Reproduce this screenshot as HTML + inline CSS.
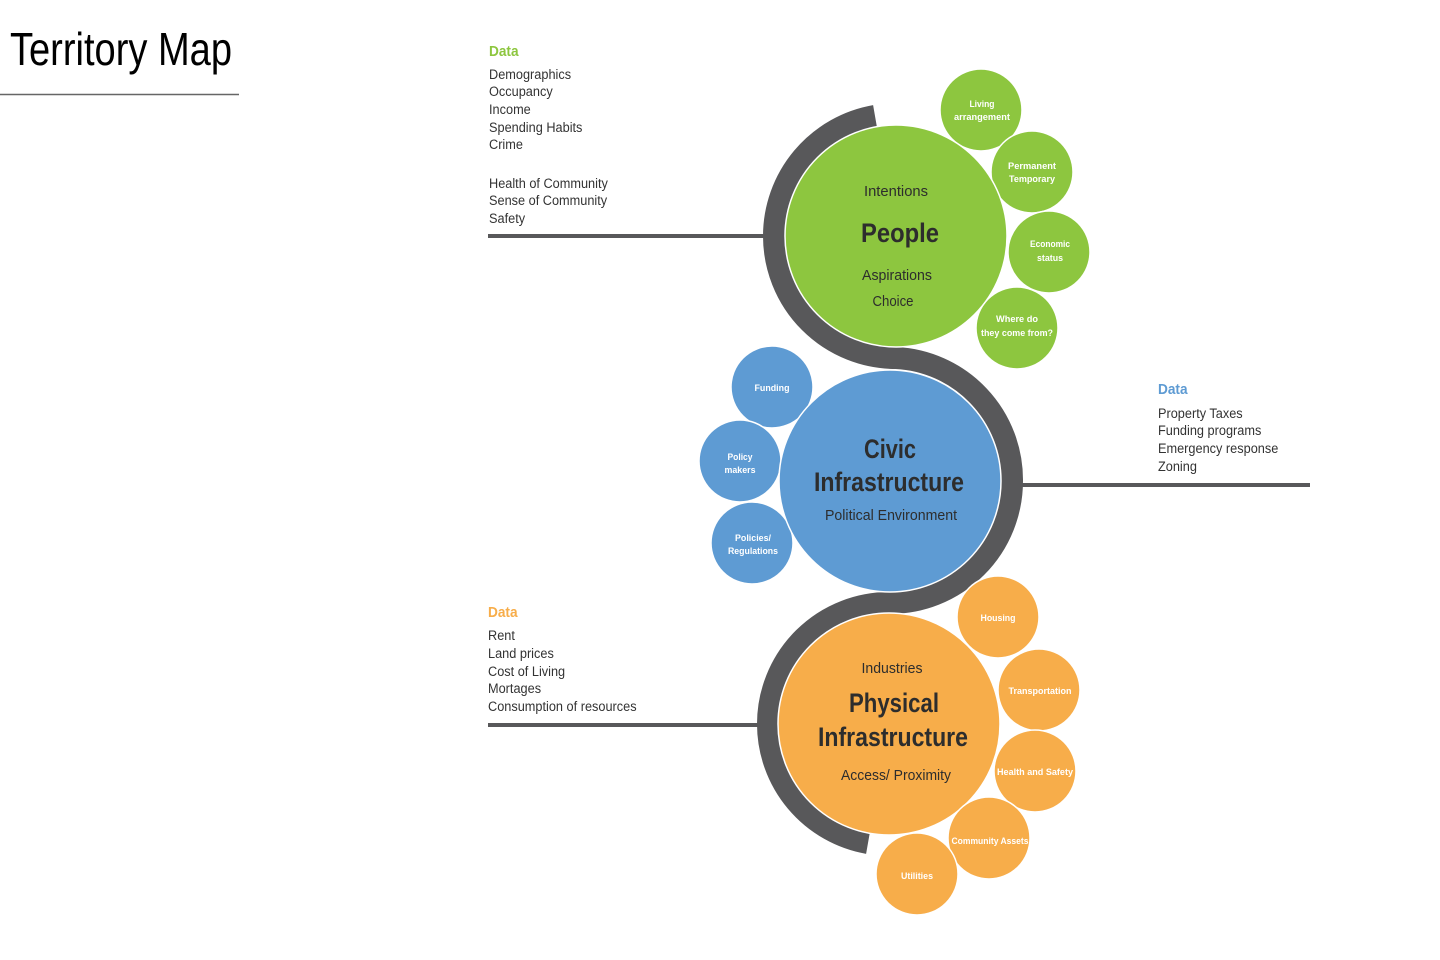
<!DOCTYPE html>
<html><head><meta charset="utf-8"><style>
html,body{margin:0;padding:0;background:#fff;width:1440px;height:960px;overflow:hidden}
svg{display:block}
text{font-family:"Liberation Sans Narrow","Liberation Sans",sans-serif}
.d{font-size:14px;fill:#333}
.h{font-size:15px;font-weight:bold}
.w{font-size:9.5px;font-weight:bold;fill:#fff}
.m{fill:#2d2d2d}
</style></head><body>
<svg width="1440" height="960" viewBox="0 0 1440 960">
<text x="10" y="65" font-size="46" fill="#000" textLength="222" lengthAdjust="spacingAndGlyphs">Territory Map</text>
<line x1="0" y1="94.5" x2="239" y2="94.5" stroke="#666" stroke-width="1.5"/>

<g stroke="#58585a" stroke-width="4">
<line x1="488" y1="236" x2="770" y2="236"/>
<line x1="1018" y1="485" x2="1310" y2="485"/>
<line x1="488" y1="725" x2="764" y2="725"/>
</g>
<path d="M 875,116 A 122 122 0 0 0 774,236 A 122 122 0 0 0 896,358 A 122 122 0 0 1 1012,481 A 122 122 0 0 1 890,603 A 121 121 0 0 0 768,724 A 121 121 0 0 0 868,843" fill="none" stroke="#58585a" stroke-width="22"/>

<g fill="#8dc63f" stroke="#fff" stroke-width="1.5">
<circle cx="981" cy="110" r="41"/>
<circle cx="1032" cy="172" r="41"/>
<circle cx="1049" cy="252" r="41"/>
<circle cx="1017" cy="328" r="41"/>
<circle cx="896" cy="236" r="111"/>
</g>
<g fill="#5e9bd3" stroke="#fff" stroke-width="1.5">
<circle cx="772" cy="387" r="41"/>
<circle cx="740" cy="461" r="41"/>
<circle cx="752" cy="543" r="41"/>
<circle cx="890" cy="481" r="111"/>
</g>
<g fill="#f7ad4a" stroke="#fff" stroke-width="1.5">
<circle cx="889" cy="724" r="111"/>
<circle cx="998" cy="617" r="41"/>
<circle cx="1039" cy="690" r="41"/>
<circle cx="1035" cy="771" r="41"/>
<circle cx="989" cy="838" r="41"/>
<circle cx="917" cy="874" r="41"/>
</g>

<g text-anchor="middle" class="m">
<text x="896" y="196" font-size="15" textLength="64" lengthAdjust="spacingAndGlyphs">Intentions</text>
<text x="900" y="242" font-size="27" font-weight="bold" textLength="78" lengthAdjust="spacingAndGlyphs">People</text>
<text x="897" y="280" font-size="15" textLength="70" lengthAdjust="spacingAndGlyphs">Aspirations</text>
<text x="893" y="306" font-size="15" textLength="41" lengthAdjust="spacingAndGlyphs">Choice</text>

<text x="890" y="458" font-size="27" font-weight="bold" textLength="52" lengthAdjust="spacingAndGlyphs">Civic</text>
<text x="889" y="491" font-size="27" font-weight="bold" textLength="150" lengthAdjust="spacingAndGlyphs">Infrastructure</text>
<text x="891" y="520" font-size="15" textLength="132" lengthAdjust="spacingAndGlyphs">Political Environment</text>

<text x="892" y="673" font-size="15" textLength="61" lengthAdjust="spacingAndGlyphs">Industries</text>
<text x="894" y="712" font-size="27" font-weight="bold" textLength="90" lengthAdjust="spacingAndGlyphs">Physical</text>
<text x="893" y="746" font-size="27" font-weight="bold" textLength="150" lengthAdjust="spacingAndGlyphs">Infrastructure</text>
<text x="896" y="780" font-size="15" textLength="110" lengthAdjust="spacingAndGlyphs">Access/ Proximity</text>
</g>

<g text-anchor="middle" class="w">
<text x="982" y="107" textLength="25" lengthAdjust="spacingAndGlyphs">Living</text><text x="982" y="120" textLength="56" lengthAdjust="spacingAndGlyphs">arrangement</text>
<text x="1032" y="169" textLength="48" lengthAdjust="spacingAndGlyphs">Permanent</text><text x="1032" y="182" textLength="46" lengthAdjust="spacingAndGlyphs">Temporary</text>
<text x="1050" y="247" textLength="40" lengthAdjust="spacingAndGlyphs">Economic</text><text x="1050" y="261" textLength="26" lengthAdjust="spacingAndGlyphs">status</text>
<text x="1017" y="322" textLength="42" lengthAdjust="spacingAndGlyphs">Where do</text><text x="1017" y="336" textLength="72" lengthAdjust="spacingAndGlyphs">they come from?</text>
<text x="772" y="391" textLength="35" lengthAdjust="spacingAndGlyphs">Funding</text>
<text x="740" y="460" textLength="25" lengthAdjust="spacingAndGlyphs">Policy</text><text x="740" y="473" textLength="31" lengthAdjust="spacingAndGlyphs">makers</text>
<text x="753" y="541" textLength="36" lengthAdjust="spacingAndGlyphs">Policies/</text><text x="753" y="554" textLength="50" lengthAdjust="spacingAndGlyphs">Regulations</text>
<text x="998" y="621" textLength="35" lengthAdjust="spacingAndGlyphs">Housing</text>
<text x="1040" y="694" textLength="63" lengthAdjust="spacingAndGlyphs">Transportation</text>
<text x="1035" y="775" textLength="76" lengthAdjust="spacingAndGlyphs">Health and Safety</text>
<text x="990" y="844" textLength="77" lengthAdjust="spacingAndGlyphs">Community Assets</text>
<text x="917" y="879" textLength="32" lengthAdjust="spacingAndGlyphs">Utilities</text>
</g>

<g transform="translate(489,0) scale(0.91,1)">
<text x="0" y="56" class="h" fill="#8dc63f">Data</text>
<g class="d">
<text x="0" y="79">Demographics</text>
<text x="0" y="96">Occupancy</text>
<text x="0" y="114">Income</text>
<text x="0" y="132">Spending Habits</text>
<text x="0" y="149">Crime</text>
<text x="0" y="188">Health of Community</text>
<text x="0" y="205">Sense of Community</text>
<text x="0" y="223">Safety</text>
</g>
</g>

<g transform="translate(1158,0) scale(0.91,1)">
<text x="0" y="394" class="h" fill="#5e9bd3">Data</text>
<g class="d">
<text x="0" y="418">Property Taxes</text>
<text x="0" y="435">Funding programs</text>
<text x="0" y="453">Emergency response</text>
<text x="0" y="471">Zoning</text>
</g>
</g>

<g transform="translate(488,0) scale(0.91,1)">
<text x="0" y="617" class="h" fill="#f7ad4a">Data</text>
<g class="d">
<text x="0" y="640">Rent</text>
<text x="0" y="658">Land prices</text>
<text x="0" y="676">Cost of Living</text>
<text x="0" y="693">Mortages</text>
<text x="0" y="711">Consumption of resources</text>
</g>
</g>
</svg>
</body></html>
